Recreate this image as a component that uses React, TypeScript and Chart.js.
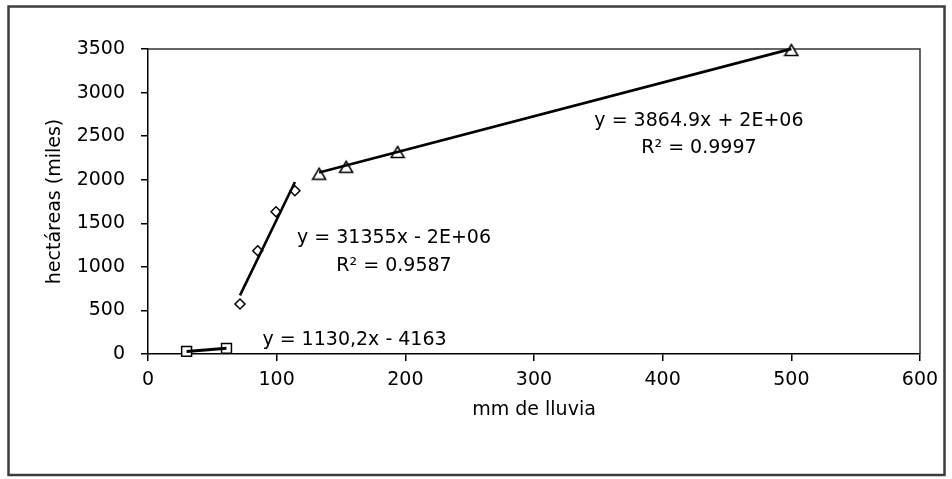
import React, { useEffect, useRef } from 'react';
import { Chart, registerables } from 'chart.js';

Chart.register(...registerables);

// ---- data (x: mm de lluvia, y: hectáreas en miles) ----
const squareX = [30, 61];
const squareY = [30, 65];
const diamondX = [71.5, 85.3, 99.5, 114.2];
const diamondY = [574, 1185, 1633, 1874];
const triangleX = [133, 154, 194, 500];
const triangleY = [2080, 2160, 2330, 3500];

// ---- axes ----
const xTickValues = [0, 100, 200, 300, 400, 500, 600];
const yTickValues = [0, 500, 1000, 1500, 2000, 2500, 3000, 3500];
const xAxisTitle = 'mm de lluvia';
const yAxisTitle = 'hectáreas (miles)';

// ---- trendline labels ----
const squareLabel = ['y = 1130,2x - 4163'];
const diamondLabel = ['y = 31355x - 2E+06', 'R² = 0.9587'];
const triangleLabel = ['y = 3864.9x + 2E+06', 'R² = 0.9997'];

// label anchors (data units, centre of first line)
const labelAnchors = [
  { lines: squareLabel, x: 160.5, y: 161 },
  { lines: diamondLabel, x: 191.2, y: 1325 },
  { lines: triangleLabel, x: 428.2, y: 2674 },
];

const FONT = '"DejaVu Sans", Verdana, sans-serif';
const FONT_SIZE = 19;

function fitLine(xs: number[], ys: number[]) {
  const n = xs.length;
  const mx = xs.reduce((a, b) => a + b, 0) / n;
  const my = ys.reduce((a, b) => a + b, 0) / n;
  let sxy = 0;
  let sxx = 0;
  for (let i = 0; i < n; i++) {
    sxy += (xs[i] - mx) * (ys[i] - my);
    sxx += (xs[i] - mx) * (xs[i] - mx);
  }
  const slope = sxy / sxx;
  const b = my - slope * mx;
  const x0 = Math.min(...xs);
  const x1 = Math.max(...xs);
  return [
    { x: x0, y: slope * x0 + b },
    { x: x1, y: slope * x1 + b },
  ];
}

function toPoints(xs: number[], ys: number[]) {
  return xs.map((x, i) => ({ x, y: ys[i] }));
}

function makeTriangle(): HTMLCanvasElement {
  const c = document.createElement('canvas');
  c.width = 16;
  c.height = 16;
  const g = c.getContext('2d')!;
  g.beginPath();
  g.moveTo(8, 3.5);
  g.lineTo(14.5, 14.5);
  g.lineTo(1.5, 14.5);
  g.closePath();
  g.fillStyle = '#ffffff';
  g.fill();
  g.lineWidth = 1.5;
  g.strokeStyle = '#000000';
  g.stroke();
  return c;
}

const framePlugin = {
  id: 'frame',
  beforeDraw(chart: any) {
    const { ctx } = chart;
    ctx.save();
    ctx.fillStyle = '#ffffff';
    ctx.fillRect(0, 0, chart.width, chart.height);
    ctx.strokeStyle = '#3c3c3c';
    ctx.lineWidth = 2.5;
    ctx.strokeRect(8.5, 6.5, 936, 468.5);
    ctx.restore();
  },
  beforeDatasetsDraw(chart: any) {
    const { ctx, chartArea } = chart;
    ctx.save();
    ctx.strokeStyle = '#333333';
    ctx.lineWidth = 1.5;
    ctx.beginPath();
    ctx.moveTo(chartArea.left, chartArea.top);
    ctx.lineTo(chartArea.right, chartArea.top);
    ctx.lineTo(chartArea.right, chartArea.bottom);
    ctx.stroke();
    ctx.restore();
  },
};

const labelPlugin = {
  id: 'trendLabels',
  afterDatasetsDraw(chart: any) {
    const { ctx } = chart;
    const xs = chart.scales.x;
    const ys = chart.scales.y;
    ctx.save();
    ctx.font = `${FONT_SIZE}px ${FONT}`;
    ctx.fillStyle = '#000000';
    ctx.textAlign = 'center';
    ctx.textBaseline = 'middle';
    for (const a of labelAnchors) {
      const px = xs.getPixelForValue(a.x);
      const py = ys.getPixelForValue(a.y);
      a.lines.forEach((t, i) => ctx.fillText(t, px, py + i * 27.5));
    }
    ctx.restore();
  },
};

export default function App() {
  const ref = useRef<HTMLCanvasElement>(null);

  useEffect(() => {
    if (!ref.current) return;
    const tri = makeTriangle();
    const markerCommon = {
      showLine: false,
      pointBackgroundColor: '#ffffff',
      pointBorderColor: '#000000',
      pointBorderWidth: 1.5,
      order: 2,
      clip: false as const,
    };
    const trendCommon = {
      showLine: true,
      borderColor: '#000000',
      borderWidth: 2.6,
      pointRadius: 0,
      pointHoverRadius: 0,
      order: 1,
      clip: false as const,
    };
    const chart = new Chart(ref.current, {
      type: 'scatter',
      data: {
        datasets: [
          { ...markerCommon, label: 's1', data: toPoints(squareX, squareY), pointStyle: 'rect', pointRadius: 7 },
          { ...markerCommon, label: 's2', data: toPoints(diamondX, diamondY), pointStyle: 'rectRot', pointRadius: 5 },
          { ...markerCommon, label: 's3', data: toPoints(triangleX, triangleY), pointStyle: tri as any, pointRadius: 7 },
          { ...trendCommon, label: 't1', data: fitLine(squareX, squareY), borderWidth: 3 },
          { ...trendCommon, label: 't2', data: fitLine(diamondX, diamondY) },
          { ...trendCommon, label: 't3', data: fitLine(triangleX, triangleY) },
        ] as any,
      },
      options: {
        animation: false,
        responsive: false,
        devicePixelRatio: 1,
        events: [],
        layout: { padding: { left: 0, right: 32, top: 49, bottom: 0 } },
        plugins: {
          legend: { display: false },
          tooltip: { enabled: false },
        },
        scales: {
          x: {
            type: 'linear',
            min: 0,
            max: 600,
            afterBuildTicks: (s: any) => {
              s.ticks = xTickValues.map((v) => ({ value: v }));
            },
            afterFit: (s: any) => {
              s.height = 125;
            },
            border: { display: true, color: '#000000', width: 1.5 },
            grid: { display: true, drawOnChartArea: false, drawTicks: true, tickLength: 7, color: '#000000', lineWidth: 1.5 },
            ticks: {
              autoSkip: false,
              maxRotation: 0,
              padding: 8,
              color: '#000000',
              font: { family: FONT, size: FONT_SIZE },
              callback: (v: any) => String(v),
            },
            title: {
              display: true,
              text: xAxisTitle,
              color: '#000000',
              font: { family: FONT, size: FONT_SIZE },
              padding: { top: 0, bottom: 57.6 },
            },
          },
          y: {
            type: 'linear',
            min: 0,
            max: 3500,
            afterBuildTicks: (s: any) => {
              s.ticks = yTickValues.map((v) => ({ value: v }));
            },
            afterFit: (s: any) => {
              s.width = 148;
            },
            border: { display: true, color: '#000000', width: 1.5 },
            grid: { display: true, drawOnChartArea: false, drawTicks: true, tickLength: 7, color: '#000000', lineWidth: 1.5 },
            ticks: {
              autoSkip: false,
              padding: 16,
              color: '#000000',
              font: { family: FONT, size: FONT_SIZE },
              callback: (v: any) => String(v),
            },
            title: {
              display: true,
              text: yAxisTitle,
              color: '#000000',
              font: { family: FONT, size: FONT_SIZE },
              padding: { top: 43.6, bottom: 0 },
            },
          },
        },
      },
      plugins: [framePlugin, labelPlugin],
    });
    return () => chart.destroy();
  }, []);

  return (
    <div style={{ position: 'fixed', left: 0, top: 0, width: 952, height: 479, background: '#ffffff' }}>
      <canvas ref={ref} width={952} height={479} style={{ display: 'block', width: 952, height: 479 }} />
    </div>
  );
}
